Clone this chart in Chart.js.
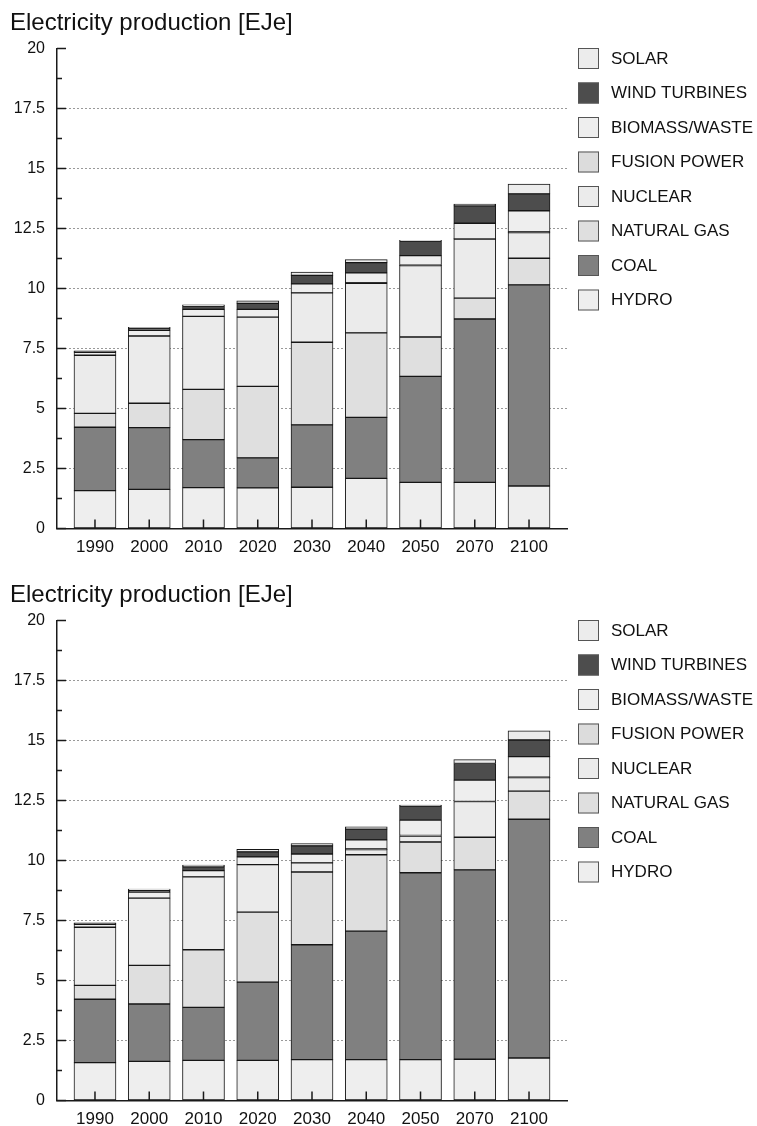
<!DOCTYPE html>
<html>
<head>
<meta charset="utf-8">
<title>Electricity production</title>
<script src="https://cdn.jsdelivr.net/npm/chart.js@4.4.1/dist/chart.umd.min.js"></script>
<style>
  html, body { margin: 0; padding: 0; background: #ffffff; overflow: hidden; }
  .panel { position: absolute; left: 0; width: 757px; height: 572px; }
  #p1 { top: 0; }
  #p2 { top: 572px; }
</style>
</head>
<body>
<div class="panel" id="p1"><canvas id="c1" width="757" height="572"></canvas></div>
<div class="panel" id="p2"><canvas id="c2" width="757" height="572"></canvas></div>
<script>
// Categories and labels
const years = ['1990', '2000', '2010', '2020', '2030', '2040', '2050', '2070', '2100'];
const sourceNames = ['HYDRO', 'COAL', 'NATURAL GAS', 'NUCLEAR', 'FUSION POWER', 'BIOMASS/WASTE', 'WIND TURBINES', 'SOLAR'];
const yTickLabels = ['0', '2.5', '5', '7.5', '10', '12.5', '15', '17.5', '20'];
const yMinorTicks = [1.25, 3.75, 6.25, 8.75, 11.25, 13.75, 16.25, 18.75];
const chartTitle = 'Electricity production [EJe]';

// Upper panel, EJe per source
const hydroA   = [1.58, 1.63, 1.70, 1.69, 1.72, 2.09, 1.92, 1.92, 1.77];
const coalA    = [2.64, 2.57, 2.00, 1.25, 2.60, 2.54, 4.42, 6.81, 8.38];
const gasA     = [0.58, 1.02, 2.10, 2.98, 3.44, 3.52, 1.64, 0.87, 1.11];
const nuclearA = [2.42, 2.80, 3.04, 2.89, 2.06, 2.07, 2.97, 2.46, 1.07];
const fusionA  = [0, 0, 0, 0, 0, 0.02, 0.02, 0.02, 0.03];
const biomassA = [0.12, 0.24, 0.29, 0.32, 0.37, 0.41, 0.40, 0.64, 0.88];
const windA    = [0.03, 0.09, 0.14, 0.25, 0.36, 0.43, 0.61, 0.72, 0.70];
const solarA   = [0.03, 0.03, 0.05, 0.11, 0.13, 0.12, 0.03, 0.08, 0.41];

// Lower panel, EJe per source
const hydroB   = [1.58, 1.63, 1.67, 1.67, 1.70, 1.70, 1.70, 1.72, 1.77];
const coalB    = [2.64, 2.39, 2.21, 3.26, 4.79, 5.36, 7.79, 7.89, 9.95];
const gasB     = [0.58, 1.61, 2.40, 2.92, 3.03, 3.18, 1.28, 1.36, 1.17];
const nuclearB = [2.42, 2.80, 3.04, 1.98, 0.38, 0.21, 0.25, 1.49, 0.56];
const fusionB  = [0, 0, 0, 0, 0, 0.03, 0.02, 0, 0.02];
const biomassB = [0.12, 0.25, 0.26, 0.32, 0.37, 0.38, 0.64, 0.89, 0.86];
const windB    = [0.03, 0.08, 0.16, 0.21, 0.34, 0.45, 0.59, 0.69, 0.69];
const solarB   = [0.03, 0.05, 0.07, 0.11, 0.10, 0.09, 0.04, 0.16, 0.38];

// Fill per source (same order as sourceNames)
const fills = ['#eeeeee', '#808080', '#dfdfdf', '#ebebeb', '#dcdcdc', '#eeeeee', '#4d4d4d', '#ececec'];

const FONT = "'Liberation Sans', Arial, Helvetica, sans-serif";
Chart.defaults.font.family = FONT;
Chart.defaults.color = '#111';

// Inward tick marks on both axes, drawn over the bars
const axisMarks = {
  id: 'axisMarks',
  afterDatasetsDraw(chart) {
    const { ctx, chartArea: a, scales: { x, y } } = chart;
    ctx.save();
    ctx.strokeStyle = '#1a1a1a';
    ctx.lineWidth = 1.5;
    ctx.beginPath();
    yTickLabels.forEach(t => {
      const py = y.getPixelForValue(parseFloat(t));
      ctx.moveTo(a.left, py); ctx.lineTo(a.left + 9, py);
    });
    yMinorTicks.forEach(v => {
      const py = y.getPixelForValue(v);
      ctx.moveTo(a.left, py); ctx.lineTo(a.left + 5, py);
    });
    years.forEach((_, i) => {
      const px = x.getPixelForValue(i);
      ctx.moveTo(px, a.bottom); ctx.lineTo(px, a.bottom - 9);
    });
    ctx.stroke();
    ctx.restore();
  }
};

// Legend column at the right, top entry = last dataset
const sideLegend = {
  id: 'sideLegend',
  afterDraw(chart, args, opts) {
    const { ctx } = chart;
    const items = chart.data.datasets.slice().reverse();
    ctx.save();
    ctx.font = opts.fontSize + 'px ' + FONT;
    ctx.textBaseline = 'middle';
    ctx.textAlign = 'left';
    items.forEach((d, i) => {
      const cy = opts.y + i * opts.step;
      const s = opts.box;
      ctx.fillStyle = d.backgroundColor;
      ctx.fillRect(opts.x, cy - s / 2, s, s);
      ctx.strokeStyle = '#555';
      ctx.lineWidth = 1;
      ctx.strokeRect(opts.x + 0.5, cy - s / 2 + 0.5, s - 1, s - 1);
      ctx.fillStyle = '#111';
      ctx.fillText(d.label, opts.textX, cy + 0.5);
    });
    ctx.restore();
  }
};

function makeChart(canvasId, series) {
  return new Chart(document.getElementById(canvasId), {
    type: 'bar',
    data: {
      labels: years.map((_, i) => i),
      datasets: sourceNames.map((name, k) => ({
        label: name,
        data: series[k],
        backgroundColor: fills[k],
        borderColor: '#161616',
        borderWidth: 1,
        borderSkipped: false,
        barThickness: 42
      }))
    },
    options: {
      responsive: false,
      animation: false,
      devicePixelRatio: 1,
      layout: { padding: { left: 10, right: 190, top: 0, bottom: 0 } },
      plugins: {
        legend: { display: false },
        tooltip: { enabled: false },
        title: {
          display: true,
          text: chartTitle,
          align: 'start',
          color: '#111',
          font: { size: 24, weight: 'normal' },
          padding: { top: 8.5, bottom: 11.2 }
        },
        sideLegend: { x: 578, y: 58.5, step: 34.5, box: 21, textX: 611, fontSize: 17 }
      },
      scales: {
        x: {
          type: 'linear',
          min: -0.7,
          max: 8.7,
          offset: false,
          stacked: true,
          afterFit: s => { s.height = 43.5; },
          grid: { display: false, drawTicks: false, offset: false },
          border: { display: true, color: '#1a1a1a', width: 1.5 },
          ticks: {
            stepSize: 1,
            includeBounds: false,
            autoSkip: false,
            maxRotation: 0,
            padding: 9,
            color: '#111',
            font: { size: 17 },
            callback: v => (Number.isInteger(v) && years[v] !== undefined) ? years[v] : ''
          }
        },
        y: {
          type: 'linear',
          min: 0,
          max: 20,
          stacked: true,
          afterFit: s => { s.width = 47; },
          grid: {
            drawTicks: false,
            lineWidth: 1,
            color: c => (c.tick && c.tick.value > 0 && c.tick.value < 20) ? '#333' : 'rgba(0,0,0,0)'
          },
          border: { display: true, color: '#1a1a1a', width: 1.5, dash: [1, 3] },
          ticks: {
            stepSize: 2.5,
            padding: 12,
            color: '#111',
            font: { size: 16 },
            callback: (v, i) => yTickLabels[i]
          }
        }
      }
    },
    plugins: [axisMarks, sideLegend]
  });
}

makeChart('c1', [hydroA, coalA, gasA, nuclearA, fusionA, biomassA, windA, solarA]);
makeChart('c2', [hydroB, coalB, gasB, nuclearB, fusionB, biomassB, windB, solarB]);
</script>
</body>
</html>
